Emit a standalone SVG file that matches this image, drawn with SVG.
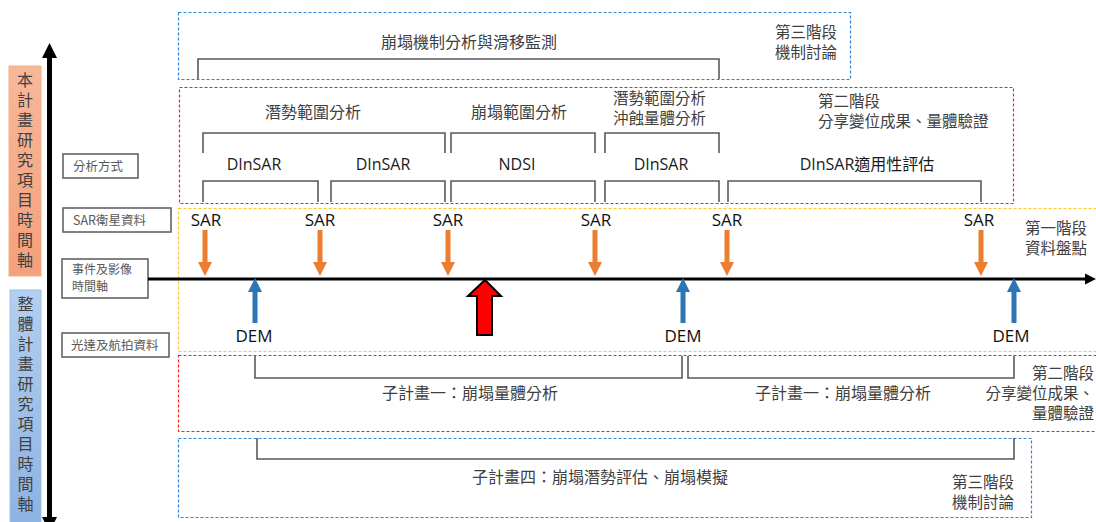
<svg xmlns="http://www.w3.org/2000/svg" width="1096" height="522" viewBox="0 0 1096 522">
<defs>
<linearGradient id="gOr" x1="0" y1="0" x2="0" y2="1"><stop offset="0" stop-color="#F7B89A"/><stop offset="1" stop-color="#F4A07A"/></linearGradient>
<linearGradient id="gBl" x1="0" y1="0" x2="0" y2="1"><stop offset="0" stop-color="#B4CEEE"/><stop offset="1" stop-color="#8DB3E2"/></linearGradient>
<style>
.cj{font-family:"Noto Sans CJK TC","Noto Sans CJK SC",sans-serif;fill:#404040;font-size:16px}
.st{font-size:15.5px}
.lb{font-family:"Noto Sans CJK TC","Noto Sans CJK SC",sans-serif;fill:#595959;font-size:12.5px}
.vt{font-family:"Noto Sans CJK TC","Noto Sans CJK SC",sans-serif;fill:#404040;font-size:16px;writing-mode:vertical-rl;letter-spacing:4px}
.en{font-family:"Open Sans","Noto Sans CJK TC",sans-serif;fill:#111;font-size:17px;text-anchor:middle}
.dn{font-family:"Open Sans","Noto Sans CJK TC",sans-serif;fill:#1a1a1a;font-size:16px;text-anchor:middle}
.mid{text-anchor:middle}
.end{text-anchor:end}
.br{fill:none;stroke:#5a5a5a;stroke-width:1.6}
.box{fill:#fff;stroke:#595959;stroke-width:1.5}
.dR{fill:none;stroke:#FF2020;stroke-width:1.2;stroke-dasharray:3 2}
.dB{fill:none;stroke:#2E86D6;stroke-width:1.2;stroke-dasharray:3 2}
.dY{fill:none;stroke:#FFC832;stroke-width:1.2;stroke-dasharray:3 2}
.oa{fill:#ED7D31}
.ba{fill:#2E75B6}
</style>
</defs>

<g id="phase-boxes">
<rect class="dB" x="178.5" y="12.5" width="672" height="67"/>
<rect class="dR" x="179.5" y="87.5" width="834" height="116"/>
<rect class="dY" x="178.5" y="208.5" width="930" height="143"/>
<rect class="dR" x="178.5" y="355.5" width="930" height="76"/>
<rect class="dB" x="178.5" y="438.5" width="853" height="79"/>
</g>

<g id="left-axis">
<rect x="9" y="66" width="32" height="210" fill="url(#gOr)" stroke="#F4B183" stroke-width="1"/>
<text class="vt" x="25" y="72">本計畫研究項目時間軸</text>
<rect x="10" y="290" width="31" height="234" fill="url(#gBl)" stroke="#9DC3E6" stroke-width="1"/>
<text class="vt" x="25.5" y="296">整體計畫研究項目時間軸</text>
<rect x="47" y="57" width="5" height="462" fill="#000"/>
<polygon points="49.5,43 57,58 42,58" fill="#000"/>
<polygon points="49.5,532 57,517 42,517" fill="#000"/>
</g>

<g id="row-labels">
<rect class="box" x="63" y="154" width="75" height="24"/>
<text class="lb" x="73" y="171">分析方式</text>
<rect class="box" x="63" y="208" width="108" height="24"/>
<text class="lb" x="73" y="225">SAR衛星資料</text>
<rect class="box" x="62" y="259" width="86" height="39"/>
<text class="lb" style="font-size:12px"><tspan x="72" y="273.5">事件及影像</tspan><tspan x="72" y="291">時間軸</tspan></text>
<rect class="box" x="62" y="333" width="107" height="24"/>
<text class="lb" x="71" y="350">光達及航拍資料</text>
</g>

<g id="connectors">
<line x1="148" y1="279" x2="1087" y2="279" stroke="#000" stroke-width="3"/>
<polygon points="1096,279 1085,273.5 1085,284.5" fill="#000"/>
<polyline class="br" points="198,79 198,59 719,59 719,79"/>
<polyline class="br" points="203,153 203,133 445,133 445,153"/>
<polyline class="br" points="451,153 451,133 595,133 595,153"/>
<polyline class="br" points="605,153 605,133 719,133 719,153"/>
<polyline class="br" points="203,202 203,181 318,181 318,202"/>
<polyline class="br" points="331,202 331,181 445,181 445,202"/>
<polyline class="br" points="451,202 451,181 595,181 595,202"/>
<polyline class="br" points="605,202 605,181 719,181 719,202"/>
<polyline class="br" points="728,202 728,181 981,181 981,202"/>
<polyline class="br" points="255,356 255,378 682,378 682,356"/>
<polyline class="br" points="688,356 688,378 1014,378 1014,356"/>
<polyline class="br" points="257,438 257,459 1014,459 1014,438"/>
</g>

<g id="sar-arrows">
<rect class="oa" x="202.5" y="230" width="5" height="33"/><polygon class="oa" points="198,262 212,262 205,276"/>
<rect class="oa" x="317.5" y="230" width="5" height="33"/><polygon class="oa" points="313,262 327,262 320,276"/>
<rect class="oa" x="445.5" y="230" width="5" height="33"/><polygon class="oa" points="441,262 455,262 448,276"/>
<rect class="oa" x="592.5" y="230" width="5" height="33"/><polygon class="oa" points="588,262 602,262 595,276"/>
<rect class="oa" x="724.5" y="230" width="5" height="33"/><polygon class="oa" points="720,262 734,262 727,276"/>
<rect class="oa" x="978.5" y="230" width="5" height="33"/><polygon class="oa" points="974,262 988,262 981,276"/>
<text class="en" x="206" y="226">SAR</text>
<text class="en" x="320" y="226">SAR</text>
<text class="en" x="448" y="226">SAR</text>
<text class="en" x="596" y="226">SAR</text>
<text class="en" x="727" y="226">SAR</text>
<text class="en" x="979" y="226">SAR</text>
</g>

<g id="dem-arrows">
<rect class="ba" x="252.5" y="291" width="5" height="32"/><polygon class="ba" points="248,292 262,292 255,278"/>
<rect class="ba" x="680.5" y="291" width="5" height="32"/><polygon class="ba" points="676,292 690,292 683,278"/>
<rect class="ba" x="1011.5" y="291" width="5" height="32"/><polygon class="ba" points="1007,292 1021,292 1014,278"/>
<text class="en" x="254" y="342">DEM</text>
<text class="en" x="683" y="342">DEM</text>
<text class="en" x="1011" y="342">DEM</text>
</g>

<g id="event-arrow">
<polygon points="485,280 501,296 492,296 492,335 477,335 477,296 468,296" fill="#FF0000" stroke="#000" stroke-width="2" stroke-linejoin="miter"/>
</g>

<g id="texts">
<text class="cj mid" x="469" y="48">崩塌機制分析與滑移監測</text>
<text class="cj st"><tspan x="775" y="38">第三階段</tspan><tspan x="775" y="58">機制討論</tspan></text>
<text class="cj mid" x="313" y="118">潛勢範圍分析</text>
<text class="cj mid" x="519" y="118">崩塌範圍分析</text>
<text class="cj st"><tspan x="613" y="104">潛勢範圍分析</tspan><tspan x="613" y="124">沖蝕量體分析</tspan></text>
<text class="cj st"><tspan x="818" y="107">第二階段</tspan><tspan x="818" y="127">分享變位成果、量體驗證</tspan></text>
<text class="dn" x="254" y="170">DInSAR</text>
<text class="dn" x="383" y="170">DInSAR</text>
<text class="dn" x="517" y="170">NDSI</text>
<text class="dn" x="661" y="170">DInSAR</text>
<text class="dn" x="867" y="170">DInSAR<tspan font-family="Noto Sans CJK TC, sans-serif">適用性評估</tspan></text>
<text class="cj st"><tspan x="1025" y="234">第一階段</tspan><tspan x="1025" y="254">資料盤點</tspan></text>
<text class="cj mid" x="470" y="399">子計畫一：崩塌量體分析</text>
<text class="cj mid" x="843" y="399">子計畫一：崩塌量體分析</text>
<text class="cj st end"><tspan x="1094" y="379">第二階段</tspan><tspan x="1094" y="399">分享變位成果、</tspan><tspan x="1094" y="419">量體驗證</tspan></text>
<text class="cj mid" x="600" y="483">子計畫四：崩塌潛勢評估、崩塌模擬</text>
<text class="cj st"><tspan x="952" y="488">第三階段</tspan><tspan x="952" y="508">機制討論</tspan></text>
</g>
</svg>
